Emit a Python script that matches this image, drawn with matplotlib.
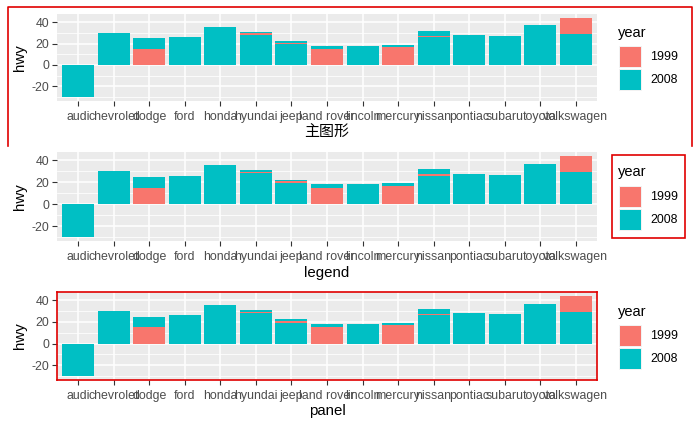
import numpy as np
import matplotlib
matplotlib.use('Agg')
import matplotlib.pyplot as plt
from matplotlib.patches import Rectangle

plt.rcParams['font.family'] = ['Liberation Sans', 'Noto Sans CJK SC', 'DejaVu Sans']
plt.rcParams['axes.unicode_minus'] = False

manufacturers = ['audi', 'chevrolet', 'dodge', 'ford', 'honda', 'hyundai', 'jeep',
                 'land rover', 'lincoln', 'mercury', 'nissan', 'pontiac', 'subaru',
                 'toyota', 'volkswagen']
nan = np.nan
# bars are drawn on top of each other (position identity), in this order
hwy_1999_back = [nan, nan, nan, nan, nan, nan, nan, nan, nan, nan, nan, nan, nan, nan, 44]
hwy_2008 = [-30, 30, 25, 26, 36, 31, 22.5, 18, 18, 19, 32, 28, 27, 37, 29]
hwy_1999 = [nan, nan, 15, nan, nan, 29.5, 21, 15, nan, 17, 27.2, nan, nan, nan, nan]
hwy_2008_front = [nan, nan, nan, nan, nan, 28.5, 19.3, nan, nan, nan, 26.2, nan, nan, nan, nan]
years = ['1999', '2008']
y_ticks = [-20, 0, 20, 40]
titles = ['主图形', 'legend', 'panel']

C99 = '#F8766D'
C08 = '#00BFC4'
W, H = 700, 432

fig = plt.figure(figsize=(W / 100, H / 100), dpi=100)


def fx(x):
    return x / W


def fy(y):
    return 1 - y / H


def addRect(x0, y0, x1, y1, **kw):
    r = Rectangle((fx(x0), fy(y1)), fx(x1) - fx(x0), fy(y0) - fy(y1),
                  transform=fig.transFigure, **kw)
    fig.patches.append(r)


def addPanel(top, bottom, xlab, border=False):
    ax = fig.add_axes([fx(57), fy(bottom), fx(597) - fx(57), fy(top) - fy(bottom)])
    ax.set_facecolor('#EBEBEB')
    x = np.arange(1, len(manufacturers) + 1)
    for vals, c in [(hwy_1999_back, C99), (hwy_2008, C08), (hwy_1999, C99), (hwy_2008_front, C08)]:
        ax.bar(x, vals, width=0.9, color=c, zorder=3)
    ax.set_xlim(0.4, 15.6)
    ax.set_ylim(-33.7, 47.7)
    ax.set_yticks(y_ticks)
    ax.set_yticks([-30, -10, 10, 30], minor=True)
    ax.set_xticks(x)
    ax.set_xticklabels(manufacturers)
    ax.grid(True, which='major', color='white', linewidth=1.1, zorder=1)
    ax.grid(True, which='minor', axis='y', color='white', linewidth=0.55, zorder=1)
    ax.tick_params(which='minor', length=0)
    ax.tick_params(which='major', length=3.5, width=0.8, color='#333333',
                   labelsize=8.9, labelcolor='#4D4D4D', pad=2)
    ax.tick_params(axis='x', pad=3.5)
    for s in ax.spines.values():
        if border:
            s.set_color('#E00000')
            s.set_linewidth(1.2)
            s.set_zorder(5)
        else:
            s.set_visible(False)
    ax.set_ylabel('hwy', fontsize=10.8, labelpad=3)
    ax.set_xlabel(xlab, fontsize=10.8, labelpad=2)
    return ax


def addLegend(title_y, key_y, box=False):
    if box:
        addRect(612, key_y - 31, 685, key_y + 52, fill=False, edgecolor='#E00000', linewidth=1.2)
    fig.text(fx(618), fy(title_y), 'year', fontsize=10.5, va='center', ha='left')
    for i, (lab, c) in enumerate(zip(years, [C99, C08])):
        y0 = key_y + i * 23
        addRect(619, y0, 642, y0 + 22, facecolor='#F2F2F2', edgecolor='none')
        addRect(620, y0 + 1, 641, y0 + 21, facecolor=c, edgecolor='none')
        fig.text(fx(650), fy(y0 + 11), lab, fontsize=8.9, va='center', ha='left')


addPanel(14, 101, titles[0])
addLegend(33, 46)
addPanel(152, 241, titles[1])
addLegend(172, 186, box=True)
addPanel(292, 380, titles[2], border=True)
addLegend(312, 325)

# plot background border of the first plot (bottom edge is cut off)
fig.add_artist(plt.Line2D([fx(8), fx(8), fx(692), fx(692)], [fy(146), fy(7), fy(7), fy(146)],
                          transform=fig.transFigure, color='#E00000', linewidth=1.2))

fig.savefig('out.png', dpi=100)
